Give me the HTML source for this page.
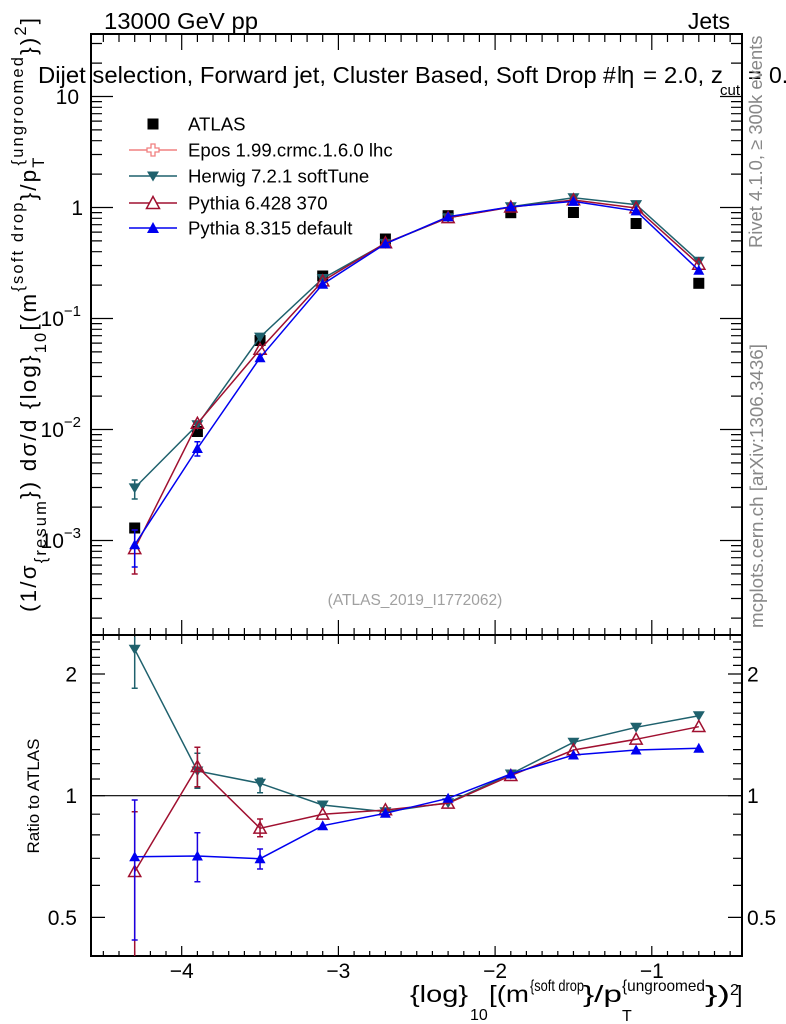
<!DOCTYPE html>
<html><head><meta charset="utf-8"><style>
html,body{margin:0;padding:0;background:#fff;}
svg{display:block;font-family:"Liberation Sans",Arial,sans-serif;}
</style></head><body>
<svg width="786" height="1024" viewBox="0 0 786 1024" xmlns="http://www.w3.org/2000/svg">
<defs>
<marker id="msq" markerWidth="12" markerHeight="12" refX="5.5" refY="5.5" markerUnits="userSpaceOnUse" overflow="visible"><rect x="0" y="0" width="11" height="11" fill="#000"/></marker>
<marker id="mdn" markerWidth="12" markerHeight="12" refX="6" refY="4.5" markerUnits="userSpaceOnUse" overflow="visible"><path d="M0,0 L12,0 L6,10 Z" fill="#1f616d"/></marker>
<marker id="mupo" markerWidth="14" markerHeight="14" refX="6.5" refY="7" markerUnits="userSpaceOnUse" overflow="visible"><path d="M6.5,0.8 L12.6,11.8 L0.4,11.8 Z" fill="none" stroke="#a01030" stroke-width="1.5"/></marker>
<marker id="mup" markerWidth="12" markerHeight="12" refX="5.5" refY="5.5" markerUnits="userSpaceOnUse" overflow="visible"><path d="M5.5,0 L11,10 L0,10 Z" fill="#0000f0"/></marker>
<clipPath id="ctop"><rect x="91" y="34" width="651" height="601"/></clipPath>
<clipPath id="crat"><rect x="91" y="635" width="651" height="321"/></clipPath>
</defs>

<!-- top labels -->
<text x="104" y="29" font-size="23" textLength="154" lengthAdjust="spacingAndGlyphs">13000 GeV pp</text>
<text x="730" y="29" font-size="23" text-anchor="end">Jets</text>

<!-- frames -->
<rect x="91" y="34" width="651" height="601" fill="none" stroke="#000" stroke-width="2"/>
<rect x="91" y="635" width="651" height="321" fill="none" stroke="#000" stroke-width="2"/>

<!-- x ticks -->
<g stroke="#000" stroke-width="1.2" fill="none">
<path d="M103.35 34v8M119 34v8M134.7 34v8M150.4 34v8M166 34v8M197.4 34v8M213 34v8M228.7 34v8M244.4 34v8M260.05 34v8M275.7 34v8M291.4 34v8M307.1 34v8M322.7 34v8M354.1 34v8M369.7 34v8M385.4 34v8M401.1 34v8M416.75 34v8M432.4 34v8M448.1 34v8M463.8 34v8M479.4 34v8M510.8 34v8M526.4 34v8M542.1 34v8M557.8 34v8M573.45 34v8M589.1 34v8M604.8 34v8M620.5 34v8M636.1 34v8M667.5 34v8M683.1 34v8M698.8 34v8M714.5 34v8M730.15 34v8"/>
<path d="M181.7 34v16M338.4 34v16M495.1 34v16M651.8 34v16"/>
<path d="M103.35 628v12M119 628v12M134.7 628v12M150.4 628v12M166 628v12M197.4 628v12M213 628v12M228.7 628v12M244.4 628v12M260.05 628v12M275.7 628v12M291.4 628v12M307.1 628v12M322.7 628v12M354.1 628v12M369.7 628v12M385.4 628v12M401.1 628v12M416.75 628v12M432.4 628v12M448.1 628v12M463.8 628v12M479.4 628v12M510.8 628v12M526.4 628v12M542.1 628v12M557.8 628v12M573.45 628v12M589.1 628v12M604.8 628v12M620.5 628v12M636.1 628v12M667.5 628v12M683.1 628v12M698.8 628v12M714.5 628v12M730.15 628v12"/>
<path d="M181.7 620v24M338.4 620v24M495.1 620v24M651.8 620v24"/>
<path d="M103.35 956v-5M119 956v-5M134.7 956v-5M150.4 956v-5M166 956v-5M197.4 956v-5M213 956v-5M228.7 956v-5M244.4 956v-5M260.05 956v-5M275.7 956v-5M291.4 956v-5M307.1 956v-5M322.7 956v-5M354.1 956v-5M369.7 956v-5M385.4 956v-5M401.1 956v-5M416.75 956v-5M432.4 956v-5M448.1 956v-5M463.8 956v-5M479.4 956v-5M510.8 956v-5M526.4 956v-5M542.1 956v-5M557.8 956v-5M573.45 956v-5M589.1 956v-5M604.8 956v-5M620.5 956v-5M636.1 956v-5M667.5 956v-5M683.1 956v-5M698.8 956v-5M714.5 956v-5M730.15 956v-5"/>
<path d="M181.7 956v-10M338.4 956v-10M495.1 956v-10M651.8 956v-10"/>

<!-- top y ticks left -->
<path d="M91 96.5h22M91 207.5h22M91 318.5h22M91 429.5h22M91 540.5h22"/>
<path d="M91 63.1h11M91 43.5h11M91 174.1h11M91 154.5h11M91 140.7h11M91 129.9h11M91 121.1h11M91 113.7h11M91 107.3h11M91 101.6h11M91 285.1h11M91 265.5h11M91 251.7h11M91 240.9h11M91 232.1h11M91 224.7h11M91 218.3h11M91 212.6h11M91 396.1h11M91 376.5h11M91 362.7h11M91 351.9h11M91 343.1h11M91 335.7h11M91 329.3h11M91 323.6h11M91 507.1h11M91 487.5h11M91 473.7h11M91 462.9h11M91 454.1h11M91 446.7h11M91 440.3h11M91 434.6h11M91 618.1h11M91 598.5h11M91 584.7h11M91 573.9h11M91 565.1h11M91 557.7h11M91 551.3h11M91 545.6h11"/>
<path d="M742 96.5h-22M742 207.5h-22M742 318.5h-22M742 429.5h-22M742 540.5h-22"/>
<path d="M742 63.1h-11M742 43.5h-11M742 174.1h-11M742 154.5h-11M742 140.7h-11M742 129.9h-11M742 121.1h-11M742 113.7h-11M742 107.3h-11M742 101.6h-11M742 285.1h-11M742 265.5h-11M742 251.7h-11M742 240.9h-11M742 232.1h-11M742 224.7h-11M742 218.3h-11M742 212.6h-11M742 396.1h-11M742 376.5h-11M742 362.7h-11M742 351.9h-11M742 343.1h-11M742 335.7h-11M742 329.3h-11M742 323.6h-11M742 507.1h-11M742 487.5h-11M742 473.7h-11M742 462.9h-11M742 454.1h-11M742 446.7h-11M742 440.3h-11M742 434.6h-11M742 618.1h-11M742 598.5h-11M742 584.7h-11M742 573.9h-11M742 565.1h-11M742 557.7h-11M742 551.3h-11M742 545.6h-11"/>

<!-- ratio y ticks -->
<path d="M91 917.4h14M91 795.7h14M91 674h14M742 917.4h-14M742 795.7h-14M742 674h-14"/>
<path d="M91 885.4h9M91 858.3h9M91 834.9h9M91 814.2h9M91 779h9M91 763.7h9M91 749.6h9M91 736.6h9M91 724.5h9M91 713.2h9M91 702.5h9M91 692.5h9M91 683h9M91 665.4h9M91 657.3h9M91 649.5h9M91 642h9"/>
<path d="M742 885.4h-9M742 858.3h-9M742 834.9h-9M742 814.2h-9M742 779h-9M742 763.7h-9M742 749.6h-9M742 736.6h-9M742 724.5h-9M742 713.2h-9M742 702.5h-9M742 692.5h-9M742 683h-9M742 665.4h-9M742 657.3h-9M742 649.5h-9M742 642h-9"/>
</g>
<line x1="91" y1="795.7" x2="742" y2="795.7" stroke="#000" stroke-width="1.2"/>

<!-- tick labels -->
<g font-size="21" fill="#000">
<text x="79" y="104" text-anchor="end">10</text>
<text x="83" y="215" text-anchor="end">1</text>
<text x="81" y="326" text-anchor="end">10<tspan dy="-10" font-size="15">−1</tspan></text>
<text x="81" y="437" text-anchor="end">10<tspan dy="-10" font-size="15">−2</tspan></text>
<text x="81" y="548" text-anchor="end">10<tspan dy="-10" font-size="15">−3</tspan></text>
<text x="77" y="681.5" text-anchor="end">2</text>
<text x="77" y="803.2" text-anchor="end">1</text>
<text x="77" y="925" text-anchor="end">0.5</text>
<text x="747" y="681.5">2</text>
<text x="747" y="803.2">1</text>
<text x="747" y="925">0.5</text>
<text x="181.7" y="978" text-anchor="middle">−4</text>
<text x="338.4" y="978" text-anchor="middle">−3</text>
<text x="495.1" y="978" text-anchor="middle">−2</text>
<text x="651.8" y="978" text-anchor="middle">−1</text>
</g>

<!-- title line -->
<g font-size="23" fill="#000">
<text x="38" y="83" textLength="558.7" lengthAdjust="spacingAndGlyphs">Dijet selection, Forward jet, Cluster Based, Soft Drop</text>
<text x="603" y="83">#</text>
<text x="617" y="83">l</text>
<text x="621" y="83" font-size="24">η</text>
<text x="643" y="83" textLength="80" lengthAdjust="spacingAndGlyphs">= 2.0, z</text>
<text x="720" y="95" font-size="15">cut</text>
<text x="748" y="83">=</text>
<text x="769" y="83">0.</text>
</g>

<!-- side texts -->
<text transform="translate(762,248) rotate(-90)" font-size="18.4" fill="#888">Rivet 4.1.0, ≥ 300k events</text>
<text transform="translate(763,628) rotate(-90)" font-size="18.8" fill="#888">mcplots.cern.ch [arXiv:1306.3436]</text>
<text x="415" y="605" font-size="15.5" fill="#a0a0a0" text-anchor="middle">(ATLAS_2019_I1772062)</text>

<!-- y title -->
<text transform="translate(36,612) rotate(-90)" font-size="22.5" textLength="594" lengthAdjust="spacing">(1/σ<tspan dy="10" font-size="16.5">{resum</tspan><tspan dy="-10">}) dσ/d {log}</tspan><tspan dy="10" font-size="16.5">10</tspan><tspan dy="-10">[(m</tspan><tspan dy="-13" font-size="16.5">{soft drop</tspan><tspan dy="13">}/p</tspan><tspan dy="8" font-size="16.5">T</tspan><tspan dx="-10" dy="-21" font-size="16.5">{ungroomed</tspan><tspan dy="13">})</tspan><tspan dy="-10" font-size="16.5">2</tspan><tspan dy="10">]</tspan></text>
<text transform="translate(39,796) rotate(-90)" font-size="17" text-anchor="middle">Ratio to ATLAS</text>

<!-- x title -->
<g fill="#000">
<text x="410" y="1002" font-size="23" textLength="58" lengthAdjust="spacingAndGlyphs">{log}</text>
<text x="470" y="1020" font-size="16">10</text>
<text x="489" y="1002" font-size="23" textLength="40" lengthAdjust="spacingAndGlyphs">[(m</text>
<text x="530" y="991" font-size="16" textLength="54" lengthAdjust="spacingAndGlyphs">{soft drop</text>
<text x="583" y="1002" font-size="23" textLength="39" lengthAdjust="spacingAndGlyphs">}/p</text>
<text x="622" y="1021" font-size="16">T</text>
<text x="622" y="991" font-size="16" textLength="83" lengthAdjust="spacingAndGlyphs">{ungroomed</text>
<text x="705" y="1002" font-size="23" textLength="25" lengthAdjust="spacingAndGlyphs">})</text>
<text x="730" y="995" font-size="16">2</text>
<text x="736" y="1002" font-size="23">]</text>
</g>

<!-- legend -->
<g font-size="18.6" fill="#000">
<rect x="147.5" y="118.5" width="11" height="11" fill="#000"/>
<text x="188" y="130.5">ATLAS</text>
<line x1="129" y1="150" x2="177" y2="150" stroke="#f08080" stroke-width="1.5"/>
<path d="M151 144h4v4h4v4h-4v4h-4v-4h-4v-4h4z" fill="#fff" stroke="#f08080" stroke-width="1.3"/>
<text x="188" y="156.5">Epos 1.99.crmc.1.6.0 lhc</text>
<line x1="129" y1="176" x2="177" y2="176" stroke="#1f616d" stroke-width="1.5"/>
<path d="M147 171.5 L159 171.5 L153 181.5 Z" fill="#1f616d"/>
<text x="188" y="182.5">Herwig 7.2.1 softTune</text>
<line x1="129" y1="203" x2="177" y2="203" stroke="#a01030" stroke-width="1.5"/>
<path d="M153 196.5 L159.5 208.5 L146.5 208.5 Z" fill="#fff" stroke="#a01030" stroke-width="1.5"/>
<text x="188" y="209.5">Pythia 6.428 370</text>
<line x1="129" y1="228" x2="177" y2="228" stroke="#0000f0" stroke-width="1.5"/>
<path d="M153 222 L159 233 L147 233 Z" fill="#0000f0"/>
<text x="188" y="234.5">Pythia 8.315 default</text>
</g>

<!-- top panel data -->
<g clip-path="url(#ctop)" fill="none" stroke-width="1.5">
<polyline points="134.7,528 197.4,431.5 260.05,340.5 322.7,276 385.4,239 448.1,215.7 510.8,212.7 573.45,212.5 636.1,223.5 698.8,283.3" stroke="none" marker-start="url(#msq)" marker-mid="url(#msq)" marker-end="url(#msq)"/>
<path d="M134.7 480v19M131.7 480h6M131.7 499h6" stroke="#1f616d" stroke-width="1.5"/>
<polyline points="134.7,487.9 197.4,424.8 260.05,337.1 322.7,278.5 385.4,243.4 448.1,217.7 510.8,206.8 573.45,197.8 636.1,204.6 698.8,261.2" stroke="#1f616d" marker-start="url(#mdn)" marker-mid="url(#mdn)" marker-end="url(#mdn)"/>
<path d="M134.7 530v44M131.7 530h6M131.7 574h6" stroke="#a01030" stroke-width="1.5"/>
<polyline points="134.7,548.8 197.4,423.5 260.05,349.5 322.7,281.1 385.4,243 448.1,217.8 510.8,207.2 573.45,200 636.1,208 698.8,264.4" stroke="#a01030" marker-start="url(#mupo)" marker-mid="url(#mupo)" marker-end="url(#mupo)"/>
<path d="M134.7 530v37M131.7 530h6M131.7 567h6M197.4 441.7v14.3M194.4 441.7h6M194.4 456h6" stroke="#0000f0" stroke-width="1.5"/>
<polyline points="134.7,544.8 197.4,448.5 260.05,357.8 322.7,284.2 385.4,243.8 448.1,216.7 510.8,206.8 573.45,201.4 636.1,210.9 698.8,270.3" stroke="#0000f0" marker-start="url(#mup)" marker-mid="url(#mup)" marker-end="url(#mup)"/>
</g>

<!-- ratio panel -->
<g clip-path="url(#crat)" fill="none" stroke-width="1.5">
<path d="M134.7 636.7v51.6M131.7 688.3h6M197.4 753.3v35M194.4 753.3h6M194.4 788.3h6M260.05 778.3v14.4M257.05 778.3h6M257.05 792.7h6" stroke="#1f616d"/>
<polyline points="134.7,649.3 197.4,771 260.05,783.3 322.7,805 385.4,811.7 448.1,802.7 510.8,774 573.45,742.3 636.1,727.3 698.8,715.7" stroke="#1f616d" marker-start="url(#mdn)" marker-mid="url(#mdn)" marker-end="url(#mdn)"/>
<path d="M134.7 811.7v150M131.7 811.7h6M197.4 747.3v39.4M194.4 747.3h6M194.4 786.7h6M260.05 819v17.7M257.05 819h6M257.05 836.7h6" stroke="#a01030"/>
<polyline points="134.7,871.7 197.4,766.7 260.05,828.3 322.7,814.3 385.4,810 448.1,803.3 510.8,775.7 573.45,750 636.1,739.3 698.8,726.7" stroke="#a01030" marker-start="url(#mupo)" marker-mid="url(#mupo)" marker-end="url(#mupo)"/>
<path d="M134.7 800v140M131.7 800h6M131.7 940h6M197.4 832.7v49M194.4 832.7h6M194.4 881.7h6M260.05 849v20M257.05 849h6M257.05 869h6" stroke="#1a00e0"/>
<polyline points="134.7,856.7 197.4,856 260.05,858.7 322.7,825.7 385.4,813.3 448.1,798.3 510.8,774 573.45,755 636.1,750 698.8,748.3" stroke="#0000f0" marker-start="url(#mup)" marker-mid="url(#mup)" marker-end="url(#mup)"/>
</g>
</svg>
</body></html>
